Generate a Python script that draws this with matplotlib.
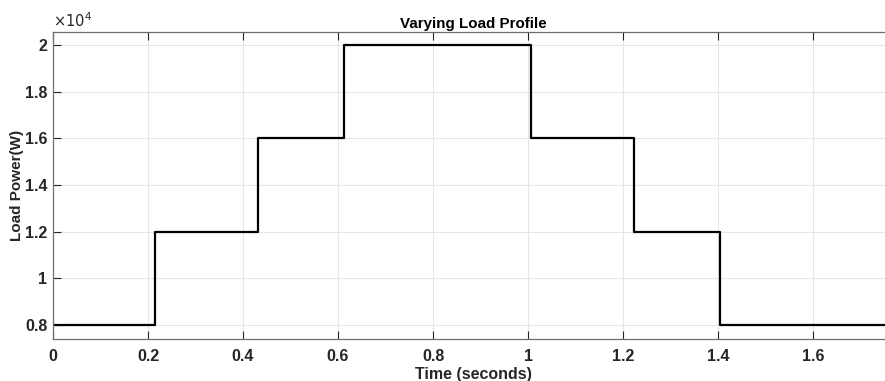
import matplotlib.pyplot as plt
import numpy as np
from matplotlib.ticker import FuncFormatter

plt.rcParams['font.family'] = ['Liberation Sans', 'DejaVu Sans']

# switching instants (s) and the load held from each one on (W)
t_switch = [0.0, 0.2155, 0.4315, 0.612, 1.007, 1.2235, 1.403, 1.77]
p_load = [8000, 12000, 16000, 20000, 16000, 12000, 8000, 8000]

x_ticks = [0, 0.2, 0.4, 0.6, 0.8, 1.0, 1.2, 1.4, 1.6]
y_ticks = [8000, 10000, 12000, 14000, 16000, 18000, 20000]

fig = plt.figure(figsize=(8.85, 3.81), dpi=100)
ax = fig.add_axes([53/885, 1 - 339/381, 1 - 53/885 + 0.01, (339 - 32)/381])

ax.step(t_switch, p_load, where='post', color='black', lw=1.6)

ax.set_xlim(0, 1.77)
ax.set_ylim(7400, 20560)
ax.set_xticks(x_ticks)
ax.set_yticks(y_ticks)
ax.xaxis.set_major_formatter(FuncFormatter(lambda v, p: '%g' % v))
ax.yaxis.set_major_formatter(FuncFormatter(lambda v, p: '%g' % (v / 1e4)))

tc = '#262626'
ax.grid(True, color='#e6e6e6', lw=0.8)
ax.set_axisbelow(True)
ax.tick_params(direction='in', length=6, width=0.8, colors=tc, top=True, right=False,
               labelsize=11.5)
ax.tick_params(axis='x', pad=7)
ax.tick_params(axis='y', pad=4)
for lab in ax.get_xticklabels() + ax.get_yticklabels():
    lab.set_fontweight('bold')
for s in ['left', 'bottom', 'top']:
    ax.spines[s].set_color('#6e6e6e')
    ax.spines[s].set_linewidth(0.9)
ax.spines['right'].set_visible(False)

ax.set_title('Varying Load Profile', fontsize=10.9, fontweight='bold', color='black', pad=3)
ax.set_xlabel('Time (seconds)', fontsize=11.5, fontweight='bold', color=tc, labelpad=2)
ax.set_ylabel('Load Power(W)', fontsize=11, fontweight='bold', color=tc, labelpad=1)
ax.text(0.0, 1.008, r'$\times10^{4}$', transform=ax.transAxes, fontsize=10.5, color=tc,
        ha='left', va='bottom')

fig.savefig('out.png', dpi=100)
